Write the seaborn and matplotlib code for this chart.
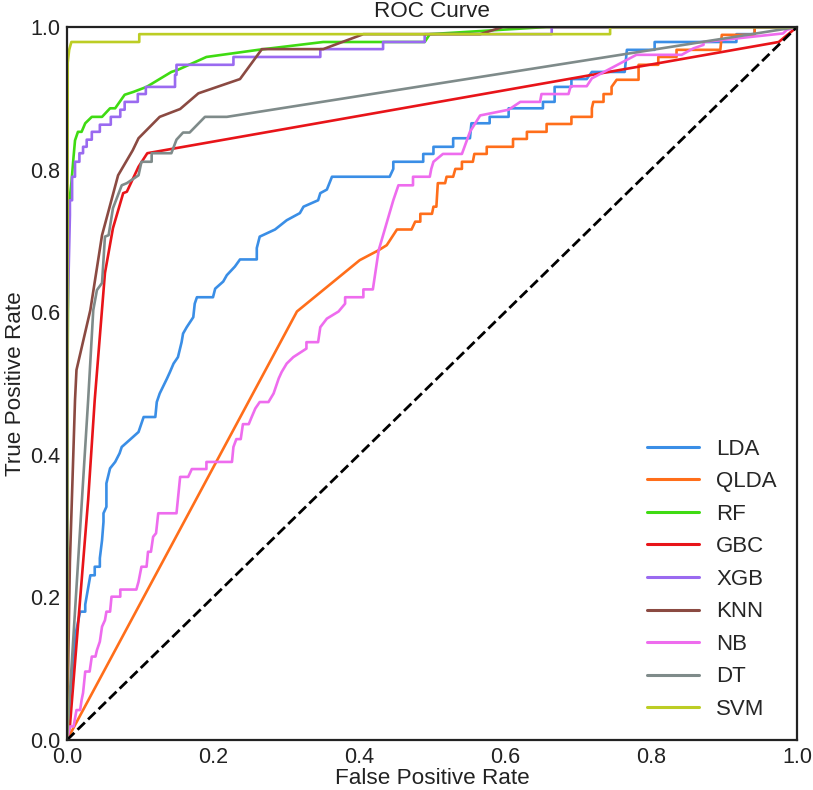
import numpy as np
import pandas as pd
import matplotlib
matplotlib.use("Agg")
import matplotlib.pyplot as plt
import seaborn as sns

# ---------------- data ----------------
models = ["LDA", "QLDA", "RF", "GBC", "XGB", "KNN", "NB", "DT", "SVM"]
colors = ["#3a8ee6", "#ff6e1a", "#3fdb12", "#e81419", "#9a6af0",
          "#8b4a42", "#ee6cee", "#7f8b8a", "#bccd24"]

lda_fpr = [0, 0.003, 0.008, 0.012, 0.018, 0.025, 0.025, 0.032, 0.038, 0.038, 0.045, 0.045, 0.048, 0.05, 0.05,
           0.054, 0.054, 0.059, 0.066, 0.072, 0.075, 0.086, 0.098, 0.105, 0.121, 0.123, 0.127, 0.137, 0.141,
           0.146, 0.152, 0.157, 0.159, 0.164, 0.173, 0.175, 0.178, 0.2, 0.203, 0.214, 0.219, 0.23, 0.237,
           0.26, 0.26, 0.264, 0.285, 0.301, 0.319, 0.324, 0.344, 0.347, 0.356, 0.363, 0.442, 0.447, 0.447,
           0.488, 0.488, 0.502, 0.502, 0.529, 0.529, 0.552, 0.554, 0.579, 0.579, 0.605, 0.605, 0.652, 0.652,
           0.668, 0.668, 0.691, 0.691, 0.712, 0.719, 0.764, 0.767, 0.805, 0.805, 0.917, 0.917, 0.942, 0.942, 1.0]
lda_tpr = [0, 0.03, 0.1, 0.15, 0.18, 0.18, 0.19, 0.231, 0.231, 0.243, 0.243, 0.255, 0.28, 0.306, 0.318,
           0.327, 0.36, 0.381, 0.39, 0.402, 0.411, 0.421, 0.432, 0.453, 0.453, 0.474, 0.486, 0.507, 0.516,
           0.528, 0.537, 0.558, 0.57, 0.579, 0.593, 0.612, 0.621, 0.621, 0.633, 0.643, 0.652, 0.664, 0.674,
           0.674, 0.69, 0.706, 0.716, 0.729, 0.739, 0.748, 0.757, 0.767, 0.772, 0.79, 0.79, 0.801, 0.811,
           0.811, 0.822, 0.822, 0.832, 0.832, 0.844, 0.844, 0.865, 0.865, 0.874, 0.874, 0.886, 0.886, 0.895,
           0.895, 0.916, 0.916, 0.927, 0.927, 0.937, 0.937, 0.968, 0.968, 0.979, 0.979, 0.99, 0.99, 1.0, 1.0]

qlda_fpr = [0, 0.315, 0.401, 0.427, 0.438, 0.452, 0.472, 0.477, 0.484, 0.484, 0.5, 0.502, 0.506, 0.508,
            0.518, 0.52, 0.529, 0.532, 0.541, 0.541, 0.556, 0.558, 0.575, 0.575, 0.611, 0.611, 0.63, 0.63,
            0.657, 0.657, 0.691, 0.691, 0.719, 0.719, 0.721, 0.735, 0.735, 0.746, 0.746, 0.753, 0.783, 0.783,
            0.81, 0.81, 0.835, 0.835, 0.895, 0.897, 0.942, 0.942, 1.0]
qlda_tpr = [0, 0.601, 0.673, 0.687, 0.694, 0.716, 0.716, 0.727, 0.727, 0.738, 0.738, 0.748, 0.748, 0.781,
            0.781, 0.79, 0.79, 0.801, 0.801, 0.811, 0.811, 0.822, 0.822, 0.832, 0.832, 0.843, 0.843, 0.853,
            0.853, 0.864, 0.864, 0.874, 0.874, 0.886, 0.895, 0.895, 0.906, 0.906, 0.916, 0.926, 0.926, 0.947,
            0.947, 0.958, 0.958, 0.968, 0.968, 0.989, 0.989, 1.0, 1.0]

rf_fpr = [0, 0.001, 0.002, 0.004, 0.006, 0.009, 0.011, 0.015, 0.02, 0.025, 0.034, 0.048, 0.059, 0.066,
          0.079, 0.091, 0.109, 0.143, 0.152, 0.191, 0.262, 0.351, 0.49, 0.497, 0.657, 1.0]
rf_tpr = [0, 0.55, 0.72, 0.762, 0.781, 0.818, 0.841, 0.853, 0.853, 0.865, 0.874, 0.874, 0.886, 0.886,
          0.905, 0.909, 0.916, 0.937, 0.94, 0.958, 0.968, 0.979, 0.979, 0.99, 1.0, 1.0]

gbc_fpr = [0, 0.004, 0.029, 0.038, 0.052, 0.063, 0.077, 0.082, 0.098, 0.11, 0.975, 1.0]
gbc_tpr = [0, 0.02, 0.337, 0.477, 0.655, 0.718, 0.767, 0.769, 0.804, 0.823, 0.979, 1.0]

xgb_fpr = [0, 0.001, 0.004, 0.004, 0.007, 0.007, 0.011, 0.011, 0.017, 0.017, 0.022, 0.022, 0.027, 0.027,
           0.034, 0.034, 0.045, 0.045, 0.06, 0.06, 0.073, 0.073, 0.079, 0.079, 0.097, 0.097, 0.108, 0.108,
           0.148, 0.148, 0.15, 0.15, 0.228, 0.228, 0.347, 0.347, 0.433, 0.433, 0.49, 0.49, 0.664, 0.664, 1.0]
xgb_tpr = [0, 0.6, 0.736, 0.757, 0.757, 0.79, 0.79, 0.811, 0.811, 0.823, 0.823, 0.832, 0.832, 0.842,
           0.842, 0.853, 0.853, 0.863, 0.863, 0.874, 0.874, 0.884, 0.884, 0.895, 0.895, 0.906, 0.906, 0.916,
           0.916, 0.933, 0.933, 0.947, 0.947, 0.958, 0.958, 0.969, 0.969, 0.979, 0.979, 0.99, 0.99, 1.0, 1.0]

knn_fpr = [0, 0.004, 0.011, 0.013, 0.032, 0.048, 0.07, 0.09, 0.098, 0.127, 0.155, 0.18, 0.237, 0.267,
           0.351, 0.406, 0.566, 0.597, 1.0]
knn_tpr = [0, 0.25, 0.477, 0.519, 0.603, 0.708, 0.792, 0.827, 0.844, 0.874, 0.885, 0.907, 0.927, 0.969,
           0.969, 0.99, 0.99, 1.0, 1.0]

nb_fpr = [0, 0.002, 0.004, 0.009, 0.013, 0.018, 0.02, 0.022, 0.025, 0.031, 0.034, 0.039, 0.041, 0.045,
          0.048, 0.052, 0.054, 0.059, 0.061, 0.073, 0.073, 0.095, 0.098, 0.102, 0.109, 0.111, 0.115, 0.118,
          0.122, 0.125, 0.15, 0.155, 0.166, 0.171, 0.191, 0.191, 0.226, 0.228, 0.232, 0.238, 0.241, 0.249,
          0.253, 0.258, 0.264, 0.276, 0.283, 0.29, 0.294, 0.301, 0.31, 0.328, 0.328, 0.344, 0.347, 0.356,
          0.372, 0.381, 0.381, 0.406, 0.406, 0.419, 0.427, 0.447, 0.454, 0.474, 0.474, 0.497, 0.499, 0.502,
          0.515, 0.541, 0.552, 0.566, 0.605, 0.621, 0.648, 0.65, 0.687, 0.69, 0.712, 0.719, 0.78, 0.842,
          0.858, 0.872, 0.872, 0.981, 0.986, 1.0]
nb_tpr = [0, 0.009, 0.019, 0.019, 0.042, 0.042, 0.056, 0.066, 0.096, 0.096, 0.117, 0.117, 0.126, 0.138,
          0.159, 0.168, 0.18, 0.18, 0.201, 0.201, 0.211, 0.211, 0.222, 0.243, 0.243, 0.264, 0.264, 0.285,
          0.29, 0.318, 0.318, 0.369, 0.369, 0.38, 0.38, 0.39, 0.39, 0.411, 0.422, 0.422, 0.443, 0.443,
          0.453, 0.465, 0.474, 0.474, 0.486, 0.507, 0.516, 0.528, 0.537, 0.549, 0.558, 0.558, 0.579, 0.591,
          0.601, 0.612, 0.621, 0.621, 0.632, 0.632, 0.687, 0.757, 0.778, 0.778, 0.79, 0.79, 0.801, 0.811,
          0.822, 0.822, 0.853, 0.876, 0.884, 0.895, 0.895, 0.906, 0.906, 0.917, 0.917, 0.928, 0.961, 0.961,
          0.97, 0.975, 0.979, 0.991, 0.996, 1.0]

dt_fpr = [0, 0.029, 0.036, 0.041, 0.048, 0.052, 0.057, 0.063, 0.075, 0.082, 0.098, 0.102, 0.116, 0.116,
          0.143, 0.15, 0.159, 0.168, 0.189, 0.219, 1.0]
dt_tpr = [0, 0.477, 0.603, 0.631, 0.641, 0.706, 0.708, 0.746, 0.778, 0.781, 0.792, 0.811, 0.811, 0.823,
          0.823, 0.842, 0.852, 0.852, 0.874, 0.874, 1.0]

svm_fpr = [0, 0.001, 0.003, 0.006, 0.099, 0.099, 0.744, 0.744, 1.0]
svm_tpr = [0, 0.95, 0.968, 0.979, 0.979, 0.99, 0.99, 1.0, 1.0]

diag = [0.0, 1.0]
ticks = [0.0, 0.2, 0.4, 0.6, 0.8, 1.0]
tick_labels = ["0.0", "0.2", "0.4", "0.6", "0.8", "1.0"]

curves = {
    "LDA": (lda_fpr, lda_tpr), "QLDA": (qlda_fpr, qlda_tpr), "RF": (rf_fpr, rf_tpr),
    "GBC": (gbc_fpr, gbc_tpr), "XGB": (xgb_fpr, xgb_tpr), "KNN": (knn_fpr, knn_tpr),
    "NB": (nb_fpr, nb_tpr), "DT": (dt_fpr, dt_tpr), "SVM": (svm_fpr, svm_tpr),
}

frames = []
for m in models:
    f, t = curves[m]
    frames.append(pd.DataFrame({"fpr": f, "tpr": t, "model": m, "order": np.arange(len(f))}))
df = pd.concat(frames, ignore_index=True)

# ---------------- style ----------------
sns.set_style("white")
plt.rcParams["font.family"] = ["Liberation Sans", "DejaVu Sans"]
plt.rcParams["axes.edgecolor"] = "#222222"

fig = plt.figure(figsize=(8.13, 7.90), dpi=100)
ax = fig.add_axes([0.0824, 0.0633, 0.8979, 0.9025])

sns.lineplot(data=df, x="fpr", y="tpr", hue="model", hue_order=models,
             palette=dict(zip(models, colors)), sort=False, estimator=None,
             units="model", linewidth=1.9, ax=ax)
sns.lineplot(x=diag, y=diag, color="black", linestyle="--", linewidth=2.0,
             ax=ax, legend=False)

ax.set_xlim(0, 1)
ax.set_ylim(0, 1)
ax.set_xticks(ticks)
ax.set_xticklabels(tick_labels)
ax.set_yticks(ticks)
ax.set_yticklabels(tick_labels)
ax.tick_params(axis="both", labelsize=15.5, length=0, pad=5, colors="#222222")
ax.set_xlabel("False Positive Rate", fontsize=16.2, labelpad=0, color="#222222")
ax.set_ylabel("True Positive Rate", fontsize=16.2, labelpad=3, color="#222222")
ax.set_title("ROC Curve", fontsize=16.2, pad=7, color="#222222")
for s in ax.spines.values():
    s.set_linewidth(1.6)
    s.set_visible(True)

sns.move_legend(ax, "lower right", frameon=False, title=None, fontsize=16,
                handlelength=2.3, handletextpad=0.8, labelspacing=0.52,
                borderaxespad=0.5)
for line in ax.get_legend().get_lines():
    line.set_linewidth(2.2)

fig.savefig("out.png", dpi=100)
